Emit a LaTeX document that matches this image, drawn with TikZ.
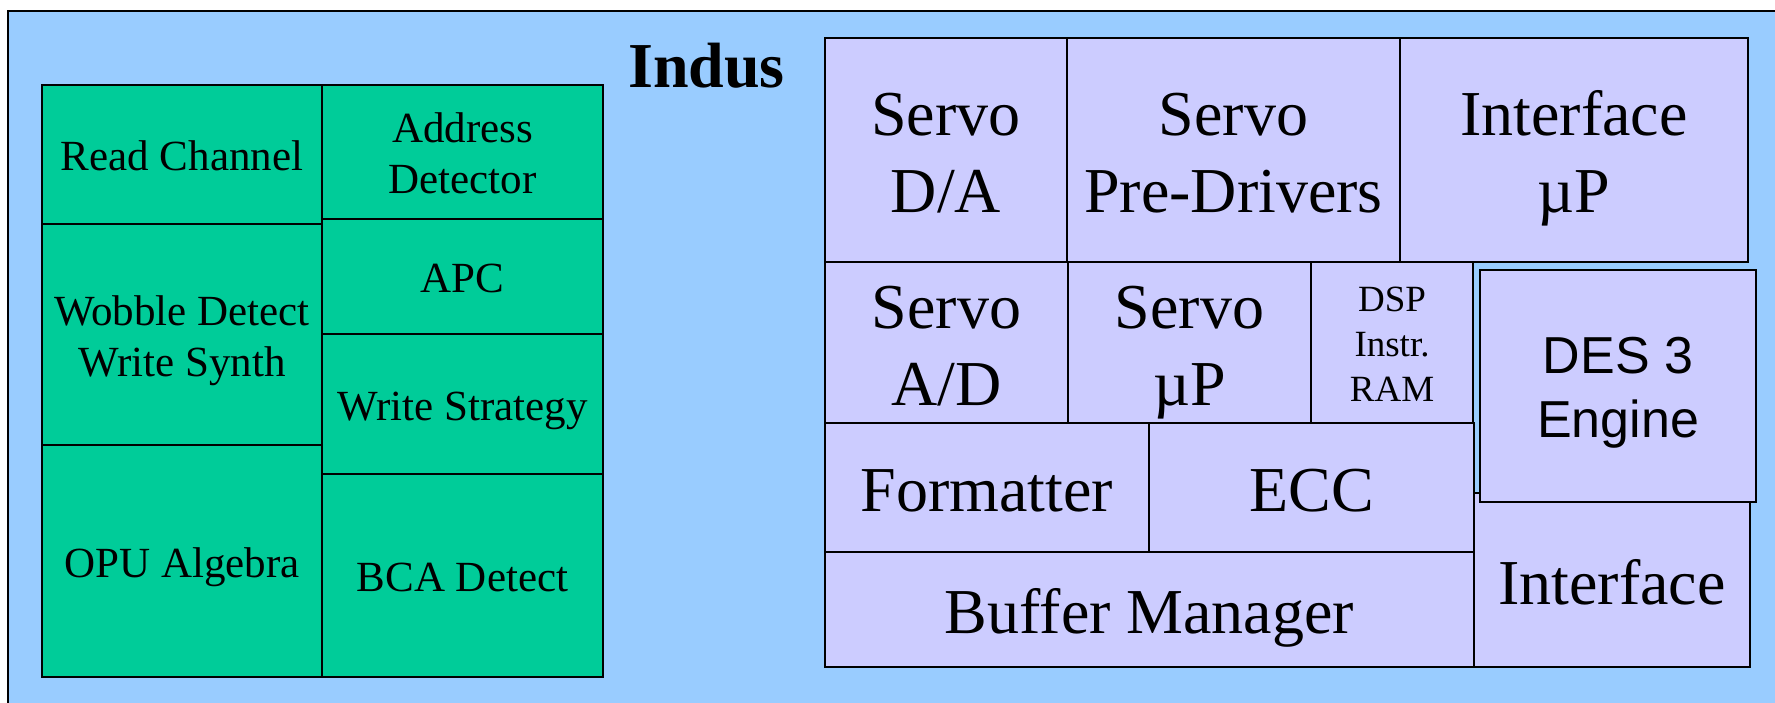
\documentclass[tikz,border=0pt]{standalone}
\usepackage{fontspec}
\setmainfont{Liberation Serif}
\newfontfamily\arialf{Liberation Sans}
\definecolor{bgblue}{RGB}{153,204,255}
\definecolor{grn}{RGB}{0,204,153}
\definecolor{lav}{RGB}{204,204,255}
\newcommand\bx[7]{\node[#1, minimum width={(#5-#3)*1pt}, minimum height={(#6-#4)*1pt}, anchor=north west] (#2) at (#3,#4) {\rule{0pt}{.9em}#7};}
\tikzset{
  gbox/.style={draw=black, line width=2.7pt, fill=grn, inner sep=0pt, outer sep=0pt, align=center, font={\fontsize{43}{51}\selectfont}, text depth=6.5pt},
  lbox/.style={draw=black, line width=2pt, fill=lav, inner sep=0pt, outer sep=0pt, align=center, font={\fontsize{64}{77}\selectfont}, text depth=9.6pt},
  sbox/.style={lbox, font={\fontsize{37}{45}\selectfont}, text depth=5.5pt},
  abox/.style={lbox, font={\arialf\fontsize{52}{64}\selectfont}, text depth=7.8pt},
  frame/.style={draw=black, line width=2pt, fill=bgblue}
}
\begin{document}
\begin{tikzpicture}[x=1pt,y=-1pt]
\clip (0,0) rectangle (1775,702);
\fill[white] (0,0) rectangle (1775,702);
\draw[frame] (8,11) rectangle (1800,730);
\node[font={\bfseries\fontsize{64}{77}\selectfont}, anchor=base west, inner sep=0pt] (indus) at (628,87) {Indus};
% green block
\bx{gbox}{rc}{42}{85}{322}{224}{Read Channel}
\bx{gbox}{wd}{42}{224}{322}{445}{Wobble Detect\\Write Synth}
\bx{gbox}{opu}{42}{445}{322}{677}{OPU Algebra}
\bx{gbox}{ad}{322}{85}{603}{219}{Address\\Detector}
\bx{gbox}{apc}{322}{219}{603}{334}{APC}
\bx{gbox}{ws}{322}{334}{603}{474}{Write Strategy}
\bx{gbox}{bca}{322}{474}{603}{677}{BCA Detect}
% lavender block
\bx{lbox}{sda}{825}{38}{1067}{262}{Servo\\D/A}
\bx{lbox}{spd}{1067}{38}{1400}{262}{Servo\\Pre-Drivers}
\bx{lbox}{iup}{1400}{38}{1748}{262}{Interface\\µP}
\bx{lbox}{sad}{825}{262}{1068}{423}{Servo\\A/D}
\bx{lbox}{sup}{1068}{262}{1311}{423}{Servo\\µP}
\bx{sbox}{dsp}{1311}{262}{1473}{423}{DSP\\Instr.\\RAM}
\bx{lbox}{fmt}{825}{423}{1149}{552}{Formatter}
\bx{lbox}{ecc}{1149}{423}{1474}{552}{ECC}
\bx{lbox}{buf}{825}{552}{1474}{667}{Buffer Manager}
\bx{lbox}{itf}{1474}{493}{1750}{667}{Interface}
\bx{abox}{des}{1480}{270}{1756}{502}{DES 3\\Engine}
\end{tikzpicture}
\end{document}
